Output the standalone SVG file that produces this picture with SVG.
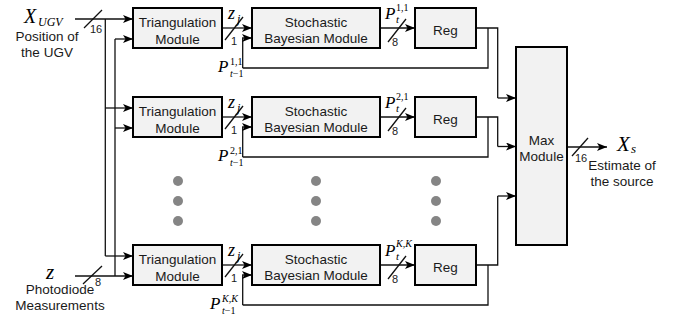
<svg xmlns="http://www.w3.org/2000/svg" width="681" height="322" viewBox="0 0 681 322">
<style>
.box{fill:#f2f2f2;stroke:#000;stroke-width:2}
.lbl{font-family:"Liberation Sans",Arial,sans-serif;font-size:13.5px;fill:#1a1a1a;text-anchor:middle}
.sm{font-family:"Liberation Sans",Arial,sans-serif;font-size:11px;fill:#1a1a1a}
.ln{fill:none;stroke:#111;stroke-width:1.3}
.ar{fill:none;stroke:#111;stroke-width:1.3;marker-end:url(#a)}
.m{font-family:"Liberation Serif","Times New Roman",serif;font-style:italic;fill:#000}
.mu{font-family:"Liberation Serif","Times New Roman",serif;fill:#000}
.dot{fill:#858585}
</style>
<defs>
<marker id="a" markerUnits="userSpaceOnUse" markerWidth="10" markerHeight="8" refX="10" refY="4" orient="auto">
<path d="M0,0 L10,4 L0,8 L2.5,4 z" fill="#000"/>
</marker>
</defs>
<rect width="681" height="322" fill="#fff"/>

<g id="connectors">
<path class="ar" d="M75,19 H133"/>
<path class="ln" d="M105.3,19 V256"/>
<path class="ar" d="M105.3,108 H133"/>
<path class="ar" d="M105.3,256 H133"/>
<path class="ar" d="M115,39 H133"/>
<path class="ln" d="M115,39 V276"/>
<path class="ar" d="M115,128 H133"/>
<path class="ar" d="M75,276 H133"/>
<path class="ln" d="M84,28 L102,10"/>
<path class="ln" d="M83,284 L102,266"/>
<path class="ar" d="M222,28 H252"/>
<path class="ln" d="M225,40 L243,17"/>
<path class="ar" d="M380,28 H415"/>
<path class="ln" d="M388,42 L406,19"/>
<path class="ar" d="M242.7,68 V38 H252"/>
<path class="ln" d="M476,28 H497.7 V98"/>
<path class="ar" d="M497.7,98 H516"/>
<path class="ln" d="M488,28 V68 H242.7"/>
<path class="ar" d="M222,117 H252"/>
<path class="ln" d="M225,129 L243,106"/>
<path class="ar" d="M380,117 H415"/>
<path class="ln" d="M388,131 L406,108"/>
<path class="ar" d="M242.7,157 V127 H252"/>
<path class="ln" d="M476,117 H497.7 V146.5"/>
<path class="ar" d="M497.7,146.5 H516"/>
<path class="ln" d="M488,117 V157 H242.7"/>
<path class="ar" d="M222,265 H252"/>
<path class="ln" d="M225,277 L243,254"/>
<path class="ar" d="M380,265 H415"/>
<path class="ln" d="M388,279 L406,256"/>
<path class="ar" d="M242.7,305 V275 H252"/>
<path class="ln" d="M476,265 H497.7 V196"/>
<path class="ar" d="M497.7,196 H516"/>
<path class="ln" d="M488,265 V305 H242.7"/>
<path class="ar" d="M567,147 H607"/>
<path class="ln" d="M572,156 L588,138"/>
</g>

<g id="tri1"><rect class="box" x="133" y="8" width="89" height="40"/><text class="lbl" x="177.5" y="27">Triangulation</text><text class="lbl" x="177.5" y="44">Module</text></g>
<g id="sbm1"><rect class="box" x="252" y="8" width="128" height="40"/><text class="lbl" x="316" y="27">Stochastic</text><text class="lbl" x="316" y="43">Bayesian Module</text></g>
<g id="reg1"><rect class="box" x="415" y="8" width="61" height="40"/><text class="lbl" x="445.5" y="35">Reg</text></g>

<g id="tri2"><rect class="box" x="133" y="97" width="89" height="40"/><text class="lbl" x="177.5" y="116">Triangulation</text><text class="lbl" x="177.5" y="133">Module</text></g>
<g id="sbm2"><rect class="box" x="252" y="97" width="128" height="40"/><text class="lbl" x="316" y="116">Stochastic</text><text class="lbl" x="316" y="132">Bayesian Module</text></g>
<g id="reg2"><rect class="box" x="415" y="97" width="61" height="40"/><text class="lbl" x="445.5" y="124">Reg</text></g>

<g id="tri3"><rect class="box" x="133" y="245" width="89" height="40"/><text class="lbl" x="177.5" y="264">Triangulation</text><text class="lbl" x="177.5" y="281">Module</text></g>
<g id="sbm3"><rect class="box" x="252" y="245" width="128" height="40"/><text class="lbl" x="316" y="264">Stochastic</text><text class="lbl" x="316" y="280">Bayesian Module</text></g>
<g id="reg3"><rect class="box" x="415" y="245" width="61" height="40"/><text class="lbl" x="445.5" y="272">Reg</text></g>

<g id="max"><rect class="box" x="516" y="47" width="51" height="198"/><text class="lbl" x="541.5" y="145">Max</text><text class="lbl" x="541.5" y="161">Module</text></g>

<g id="dots">
<circle class="dot" cx="178" cy="181" r="5"/><circle class="dot" cx="178" cy="201" r="5"/><circle class="dot" cx="178" cy="221" r="5"/>
<circle class="dot" cx="316" cy="181" r="5"/><circle class="dot" cx="316" cy="201" r="5"/><circle class="dot" cx="316" cy="221" r="5"/>
<circle class="dot" cx="436" cy="181" r="5"/><circle class="dot" cx="436" cy="201" r="5"/><circle class="dot" cx="436" cy="221" r="5"/>
</g>

<g id="labels">
<text class="m" x="24" y="23" font-size="20">X</text><text class="m" x="38" y="26" font-size="12">UGV</text>
<text class="lbl" x="47" y="41">Position of</text>
<text class="lbl" x="47" y="57">the UGV</text>
<text class="sm" x="90" y="33">16</text>
<text class="m" x="46" y="279" font-size="21">z</text>
<text class="lbl" x="60" y="294">Photodiode</text>
<text class="lbl" x="60" y="310">Measurements</text>
<text class="sm" x="95" y="286">8</text>

<text class="m" x="228" y="19" font-size="18">z</text><text class="m" x="237" y="23" font-size="12">j</text>
<text class="sm" x="231" y="45">1</text>
<text class="m" x="228" y="108" font-size="18">z</text><text class="m" x="237" y="112" font-size="12">j</text>
<text class="sm" x="231" y="134">1</text>
<text class="m" x="228" y="256" font-size="18">z</text><text class="m" x="237" y="260" font-size="12">j</text>
<text class="sm" x="231" y="282">1</text>

<text class="m" x="385" y="19" font-size="17">P</text><text class="mu" x="396" y="11" font-size="10">1,1</text><text class="m" x="396" y="23" font-size="11">t</text>
<text class="sm" x="392" y="46">8</text>
<text class="m" x="385" y="108" font-size="17">P</text><text class="mu" x="396" y="100" font-size="10">2,1</text><text class="m" x="396" y="112" font-size="11">t</text>
<text class="sm" x="392" y="135">8</text>
<text class="m" x="385" y="256" font-size="17">P</text><text class="m" x="396" y="247" font-size="10">K,K</text><text class="m" x="396" y="260" font-size="11">t</text>
<text class="sm" x="392" y="283">8</text>

<text class="m" x="218" y="72" font-size="17">P</text><text class="mu" x="230" y="65" font-size="10">1,1</text><text class="mu" x="230" y="77" font-size="10"><tspan font-style="italic">t</tspan>−1</text>
<text class="m" x="218" y="161" font-size="17">P</text><text class="mu" x="230" y="154" font-size="10">2,1</text><text class="mu" x="230" y="166" font-size="10"><tspan font-style="italic">t</tspan>−1</text>
<text class="m" x="210" y="309" font-size="17">P</text><text class="m" x="222" y="302" font-size="10">K,K</text><text class="mu" x="222" y="314" font-size="10"><tspan font-style="italic">t</tspan>−1</text>

<text class="m" x="617" y="151" font-size="21">X</text><text class="m" x="631" y="153" font-size="13">s</text>
<text class="sm" x="575" y="162">16</text>
<text class="lbl" x="622" y="170">Estimate of</text>
<text class="lbl" x="622" y="186">the source</text>
</g>
</svg>
